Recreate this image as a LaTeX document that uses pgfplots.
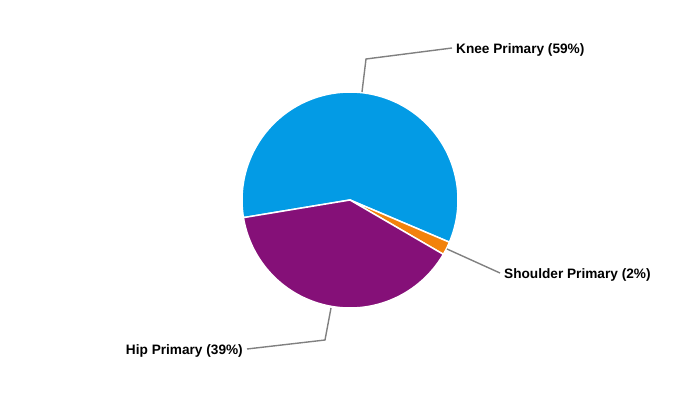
\documentclass[border=0pt]{standalone}
\usepackage{pgfplots}
\pgfplotsset{compat=1.18}
\usepackage{fontspec}
\setmainfont{Liberation Sans}
\definecolor{knee}{RGB}{3,155,229}
\definecolor{shoulder}{RGB}{242,130,12}
\definecolor{hip}{RGB}{133,16,120}
\definecolor{leader}{RGB}{128,128,128}
\begin{document}
\begin{tikzpicture}
% slice values (percent), drawn clockwise from the start angle
\def\valKnee{59}
\def\valShoulder{2}
\def\valHip{39}
\def\startangle{189.4}
\def\R{108}
\pgfmathsetmacro\aA{\startangle}
\pgfmathsetmacro\aB{\aA-\valKnee*3.6}
\pgfmathsetmacro\aC{\aB-\valShoulder*3.6}
\pgfmathsetmacro\aD{\aC-\valHip*3.6}
\begin{axis}[
  scale only axis, width=700bp, height=400bp,
  xmin=-350, xmax=350, ymin=-200, ymax=200,
  hide axis, clip=false,
]
\path (rel axis cs:0,0) rectangle (rel axis cs:1,1);
\addplot[fill=knee, draw=white, line width=1.5bp, domain=\aB:\aA, samples=120, variable=\t]
  ({\R*cos(\t)}, {\R*sin(\t)}) -- (axis cs:0,0) -- cycle;
\addplot[fill=shoulder, draw=white, line width=1.5bp, domain=\aC:\aB, samples=10, variable=\t]
  ({\R*cos(\t)}, {\R*sin(\t)}) -- (axis cs:0,0) -- cycle;
\addplot[fill=hip, draw=white, line width=1.5bp, domain=\aD:\aC, samples=100, variable=\t]
  ({\R*cos(\t)}, {\R*sin(\t)}) -- (axis cs:0,0) -- cycle;
% leader lines
\addplot[leader, line width=1.4bp] coordinates {(12,108) (16,141) (102,152)};
\addplot[leader, line width=1.4bp] coordinates {(97,-49) (150,-73)};
\addplot[leader, line width=1.4bp] coordinates {(-19,-108) (-25,-140) (-103,-149)};
% labels
\node[anchor=west, inner sep=0pt, font=\fontsize{13.7}{15}\selectfont\bfseries] at (axis cs:106,150.5) {Knee Primary (59\%)};
\node[anchor=west, inner sep=0pt, font=\fontsize{13.7}{15}\selectfont\bfseries] at (axis cs:154,-74.5) {Shoulder Primary (2\%)};
\node[anchor=east, inner sep=0pt, font=\fontsize{13.7}{15}\selectfont\bfseries] at (axis cs:-107,-150.5) {Hip Primary (39\%)};
\end{axis}
\end{tikzpicture}
\end{document}
